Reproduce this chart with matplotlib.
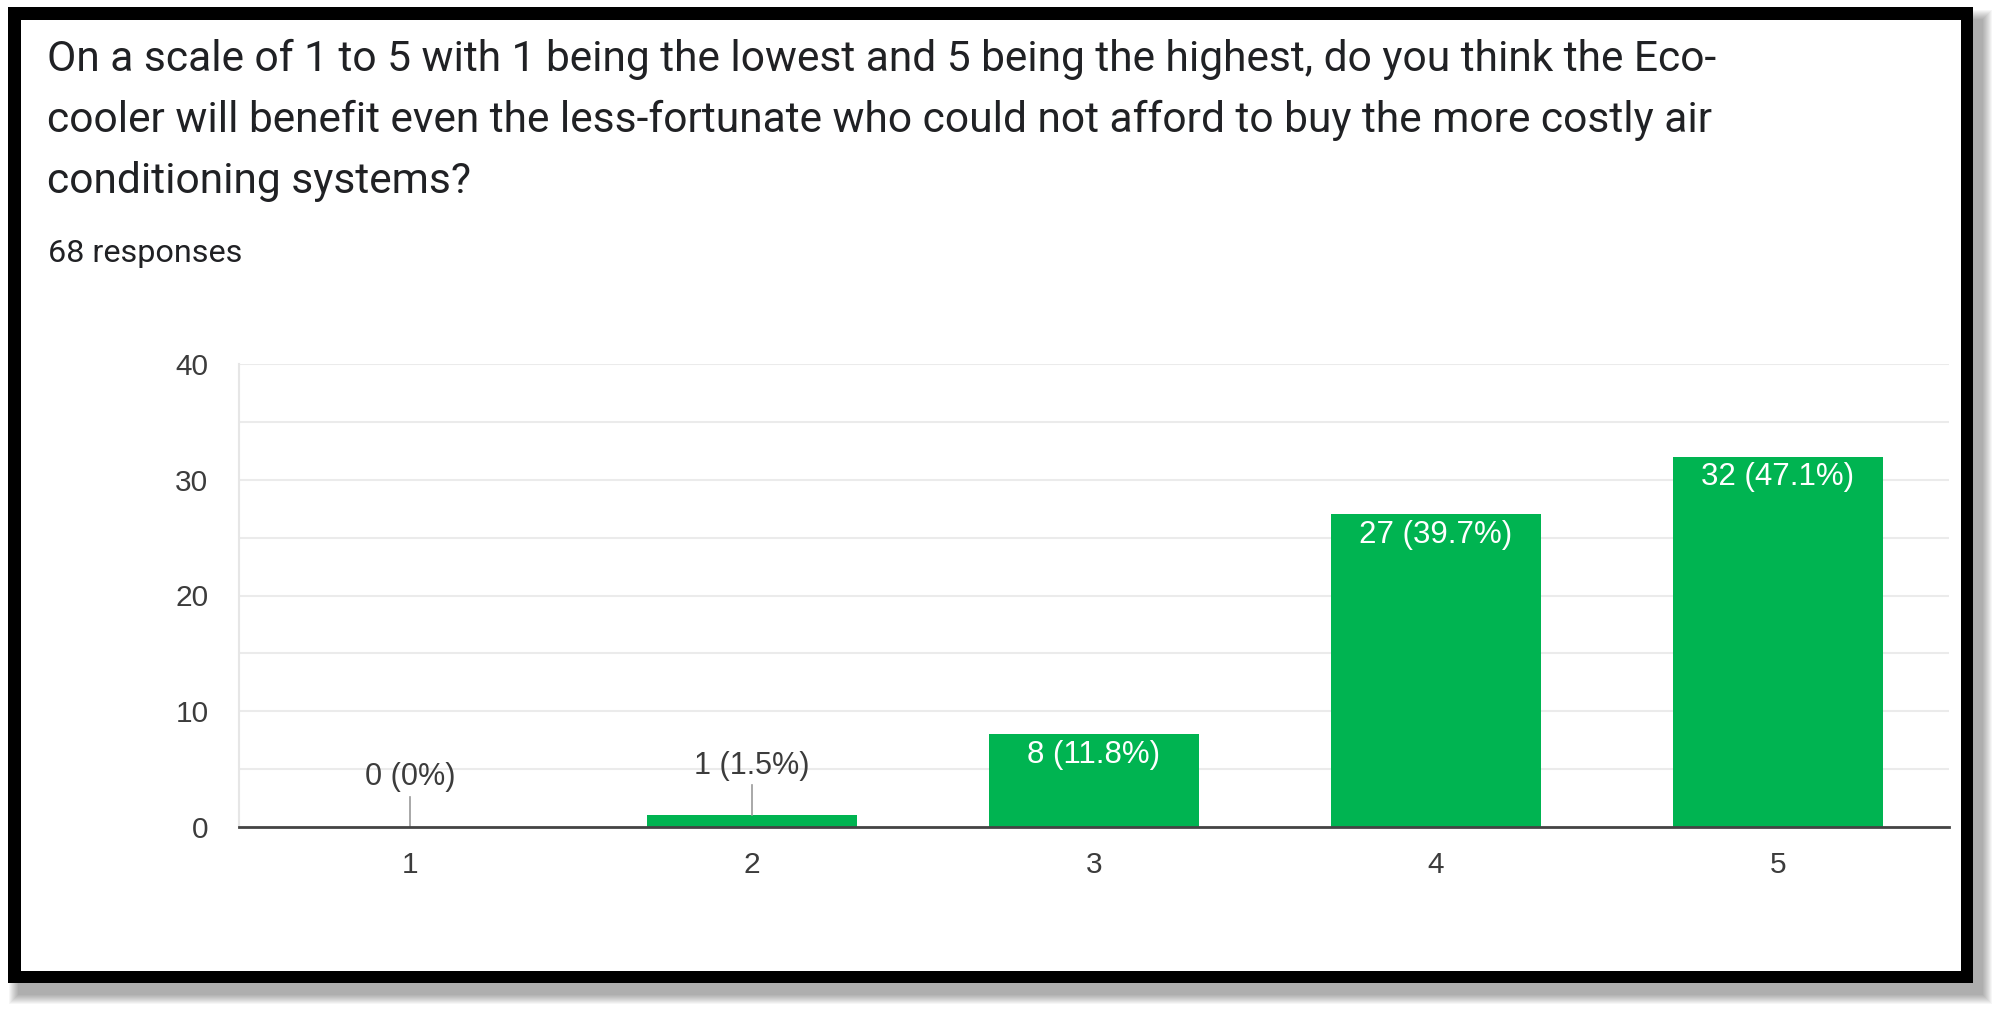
import matplotlib.pyplot as plt
from matplotlib.patches import Rectangle

# question text and survey results
TITLE_LINES = [
    'On a scale of 1 to 5 with 1 being the lowest and 5 being the highest, do you think the Eco-',
    'cooler will benefit even the less-fortunate who could not afford to buy the more costly air',
    'conditioning systems?',
]
RESPONSES = '68 responses'
ratings = [1, 2, 3, 4, 5]
counts = [0, 1, 8, 27, 32]
percents = ['0%', '1.5%', '11.8%', '39.7%', '47.1%']
y_major = [0, 10, 20, 30, 40]
y_minor = [5, 15, 25, 35]

W, H = 2000, 1010
GREEN = '#00b451'
CHART_FONT = 'Liberation Sans'

fig = plt.figure(figsize=(W / 100, H / 100), dpi=100)

# page layer in pixel coordinates: shadow, black frame, heading
page = fig.add_axes([0, 0, 1, 1], zorder=0)
page.set_xlim(0, W)
page.set_ylim(H, 0)
page.axis('off')

for k in range(10):
    page.add_patch(Rectangle((8 + 10 - k, 7 + 12 - k), 1965 + 2 * k, 976 + 2 * k,
                             fc='black', ec='none', alpha=0.035))
page.add_patch(Rectangle((8, 7), 1965, 976, fc='black', ec='none'))
page.add_patch(Rectangle((21, 20), 1940, 951, fc='white', ec='none'))

for line, base in zip(TITLE_LINES, [71, 132, 193]):
    page.text(47, base, line, fontsize=30.6, family='Roboto', color='#202124', va='baseline')
page.text(48, 262, RESPONSES, fontsize=23.3, family='Roboto', color='#202124', va='baseline')

# bar chart
ax = fig.add_axes([239 / W, (H - 827) / H, 1710 / W, 463 / H], zorder=1)
ax.set_facecolor('none')
ax.bar(ratings, counts, width=0.615, color=GREEN, zorder=2)

ax.set_xlim(0.5, 5.5)
ax.set_ylim(0, 40)
ax.set_xticks(ratings)
ax.set_xticklabels([str(r) for r in ratings])
ax.set_yticks(y_major)
ax.set_yticks(y_minor, minor=True)
ax.grid(axis='y', which='both', color='#ebebeb', lw=1.5, zorder=0)
ax.set_axisbelow(True)
ax.tick_params(which='both', length=0)
ax.tick_params(axis='y', pad=22)
ax.tick_params(axis='x', pad=17)
for lab in ax.get_xticklabels() + ax.get_yticklabels():
    lab.set_fontfamily(CHART_FONT)
    lab.set_fontsize(21.5)
    lab.set_color('#3c3c3c')

for side in ['top', 'right']:
    ax.spines[side].set_visible(False)
ax.spines['left'].set_color('#e6e6e6')
ax.spines['left'].set_linewidth(1.5)
ax.spines['bottom'].set_color('#444444')
ax.spines['bottom'].set_linewidth(2)
ax.spines['bottom'].set_zorder(3)

for r, c, p in zip(ratings, counts, percents):
    label = f'{c} ({p})'
    if c >= 3:
        ax.annotate(label, (r, c), xytext=(0, -14.5), textcoords='offset points',
                    ha='center', va='center', color='white', fontsize=22.5,
                    family=CHART_FONT, zorder=4)
    else:
        ax.plot([r, r], [c, c + 2.6], color='#999999', lw=1.2, zorder=3)
        ax.text(r, c + 4.3, label, ha='center', va='center', color='#3c3c3c',
                fontsize=22, family=CHART_FONT, zorder=4)

fig.savefig('out.png', dpi=100)
